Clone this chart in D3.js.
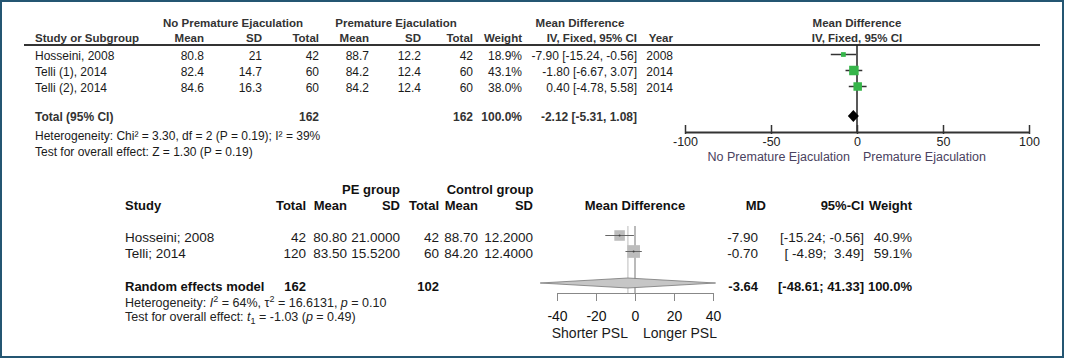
<!DOCTYPE html>
<html>
<head>
<meta charset="utf-8">
<script src="https://cdn.jsdelivr.net/npm/d3@7"></script>
<style>
body { margin: 0; background: #fff; }
svg text { font-family: Arial, "Liberation Sans", sans-serif; white-space: pre; }
</style>
</head>
<body>
<svg id="forest" width="1065" height="359"></svg>
<script>
// ---- top panel (RevMan, fixed effect) ----
var studiesA = ["Hosseini, 2008", "Telli (1), 2014", "Telli (2), 2014"];
var noPeMean = [80.8, 82.4, 84.6];
var noPeSD = [21, 14.7, 16.3];
var noPeN = [42, 60, 60];
var peMeanA = [88.7, 84.2, 84.2];
var peSDA = [12.2, 12.4, 12.4];
var peNA = [42, 60, 60];
var weightA = [18.9, 43.1, 38.0];
var mdA = [-7.90, -1.80, 0.40];
var loA = [-15.24, -6.67, -4.78];
var hiA = [-0.56, 3.07, 5.58];
var yearA = [2008, 2014, 2014];
var totalA = {n1: 162, n2: 162, w: 100.0, md: -2.12, lo: -5.31, hi: 1.08};
var ticksA = [-100, -50, 0, 50, 100];

// ---- bottom panel (meta, random effects) ----
var studiesB = ["Hosseini; 2008", "Telli; 2014"];
var peTotB = [42, 120];
var peMeanB = [80.80, 83.50];
var peSDB = [21.0000, 15.5200];
var ctlTotB = [42, 60];
var ctlMeanB = [88.70, 84.20];
var ctlSDB = [12.2000, 12.4000];
var mdB = [-7.90, -0.70];
var loB = [-15.24, -4.89];
var hiB = [-0.56, 3.49];
var weightB = [40.9, 59.1];
var totalB = {n1: 162, n2: 102, md: -3.64, lo: -48.61, hi: 41.33, w: 100.0};
var ticksB = [-40, -20, 0, 20, 40];

function txt(g, x, y, s, anchor, opts) {
	opts = opts || {};
	return g.append("text")
		.attr("x", x).attr("y", y)
		.attr("text-anchor", anchor || "start")
		.style("font-size", (opts.size || 12) + "px")
		.style("font-weight", opts.bold ? "bold" : "normal")
		.attr("fill", opts.color || "#1a1a1a")
		.text(s);
}

function draw() {
	var svg = d3.select("#forest");

	svg.append("rect")
		.attr("x", 1).attr("y", 1)
		.attr("width", 1062).attr("height", 356)
		.attr("fill", "#fff")
		.attr("stroke", "#245672")
		.attr("stroke-width", 2);

	// ================= top =================
	var gTop = svg.append("g").attr("class", "top");
	var hd = {size: 11.5, bold: true, color: "#333"};
	var fs = 12;

	txt(gTop, 233, 27, "No Premature Ejaculation", "middle", hd);
	txt(gTop, 396, 27, "Premature Ejaculation", "middle", hd);
	txt(gTop, 580, 27, "Mean Difference", "middle", hd);
	txt(gTop, 857, 27, "Mean Difference", "middle", hd);

	txt(gTop, 35, 42, "Study or Subgroup", "start", hd);
	txt(gTop, 204, 42, "Mean", "end", hd);
	txt(gTop, 262, 42, "SD", "end", hd);
	txt(gTop, 319, 42, "Total", "end", hd);
	txt(gTop, 369, 42, "Mean", "end", hd);
	txt(gTop, 421, 42, "SD", "end", hd);
	txt(gTop, 473, 42, "Total", "end", hd);
	txt(gTop, 522, 42, "Weight", "end", hd);
	txt(gTop, 637, 42, "IV, Fixed, 95% CI", "end", hd);
	txt(gTop, 673, 42, "Year", "end", hd);
	txt(gTop, 857, 42, "IV, Fixed, 95% CI", "middle", hd);

	gTop.append("line")
		.attr("x1", 24).attr("x2", 1040)
		.attr("y1", 45).attr("y2", 45)
		.attr("stroke", "#333").attr("stroke-width", 2);

	var rowA = d3.scalePoint().domain(studiesA).range([55.5, 87.5]);
	var xA = d3.scaleLinear().domain([-100, 100]).range([685, 1029]);
	var sizeA = d3.scaleLinear().domain([0, 43.1]).range([1, 9.5]);

	studiesA.forEach(function(s, i) {
		var y = rowA(s) + 4.5;
		var o = {size: fs};
		txt(gTop, 35, y, s, "start", o);
		txt(gTop, 204, y, noPeMean[i].toFixed(1), "end", o);
		txt(gTop, 262, y, String(noPeSD[i]), "end", o);
		txt(gTop, 319, y, String(noPeN[i]), "end", o);
		txt(gTop, 369, y, peMeanA[i].toFixed(1), "end", o);
		txt(gTop, 421, y, peSDA[i].toFixed(1), "end", o);
		txt(gTop, 473, y, String(peNA[i]), "end", o);
		txt(gTop, 522, y, weightA[i].toFixed(1) + "%", "end", o);
		txt(gTop, 637, y, mdA[i].toFixed(2) + " [" + loA[i].toFixed(2) + ", " + hiA[i].toFixed(2) + "]", "end", o);
		txt(gTop, 673, y, String(yearA[i]), "end", o);
	});

	var totY = 121;
	var tb = {size: fs, bold: true, color: "#333"};
	txt(gTop, 35, totY, "Total (95% CI)", "start", tb);
	txt(gTop, 319, totY, String(totalA.n1), "end", tb);
	txt(gTop, 473, totY, String(totalA.n2), "end", tb);
	txt(gTop, 522, totY, totalA.w.toFixed(1) + "%", "end", tb);
	txt(gTop, 637, totY, totalA.md.toFixed(2) + " [" + totalA.lo.toFixed(2) + ", " + totalA.hi.toFixed(2) + "]", "end", tb);
	txt(gTop, 35, 140, "Heterogeneity: Chi\u00b2 = 3.30, df = 2 (P = 0.19); I\u00b2 = 39%", "start", {size: fs});
	txt(gTop, 35, 156, "Test for overall effect: Z = 1.30 (P = 0.19)", "start", {size: fs});

	// zero line
	var axYA = 132;
	gTop.append("line")
		.attr("x1", xA(0)).attr("x2", xA(0))
		.attr("y1", 45).attr("y2", axYA)
		.attr("stroke", "#222").attr("stroke-width", 1.5);

	// CIs + squares
	studiesA.forEach(function(s, i) {
		var y = rowA(s) - 1;
		gTop.append("line")
			.attr("x1", xA(loA[i])).attr("x2", xA(hiA[i]))
			.attr("y1", y).attr("y2", y)
			.attr("stroke", "#333").attr("stroke-width", 1.5);
		var w = sizeA(weightA[i]);
		gTop.append("rect")
			.attr("x", xA(mdA[i]) - w / 2).attr("y", y - w / 2)
			.attr("width", w).attr("height", w)
			.attr("fill", "#36b54a");
	});

	// pooled diamond
	var dy = 116;
	gTop.append("path")
		.attr("d", "M" + xA(totalA.lo) + "," + dy + "L" + xA(totalA.md) + "," + (dy - 6) +
			"L" + xA(totalA.hi) + "," + dy + "L" + xA(totalA.md) + "," + (dy + 6) + "Z")
		.attr("fill", "#000");

	var axisA = gTop.append("g")
		.attr("transform", "translate(0," + axYA + ")")
		.call(d3.axisBottom(xA).tickValues(ticksA).tickFormat(d => String(d))
			.tickSize(-7).tickSizeOuter(0).tickPadding(5));
	axisA.select(".domain").attr("stroke", "#333").attr("stroke-width", 2);
	axisA.selectAll(".tick line").attr("stroke", "#333").attr("stroke-width", 1.5).attr("y2", -7).attr("y1", 2);
	axisA.selectAll(".tick text")
		.style("font-size", "12.5px").attr("fill", "#222")
		.attr("font-family", null);

	txt(gTop, 850, 161, "No Premature Ejaculation", "end", {size: 12.5, color: "#4a4260"});
	txt(gTop, 863, 161, "Premature Ejaculation", "start", {size: 12.5, color: "#4a4260"});

	// ================= bottom =================
	var gBot = svg.append("g").attr("class", "bottom");
	var bh = {size: 13, bold: true, color: "#111"};
	var fb = 13.5;

	txt(gBot, 371, 194, "PE group", "middle", bh);
	txt(gBot, 490, 194, "Control group", "middle", bh);
	txt(gBot, 125, 210, "Study", "start", bh);
	txt(gBot, 306, 210, "Total", "end", bh);
	txt(gBot, 347, 210, "Mean", "end", bh);
	txt(gBot, 400, 210, "SD", "end", bh);
	txt(gBot, 439, 210, "Total", "end", bh);
	txt(gBot, 478, 210, "Mean", "end", bh);
	txt(gBot, 533, 210, "SD", "end", bh);
	txt(gBot, 635, 210, "Mean Difference", "middle", bh);
	txt(gBot, 766, 210, "MD", "end", bh);
	txt(gBot, 864, 210, "95%-CI", "end", bh);
	txt(gBot, 912, 210, "Weight", "end", bh);

	var rowB = d3.scalePoint().domain(studiesB).range([236.5, 252.5]);
	var xB = d3.scaleLinear().domain([-40, 40]).range([557, 713]);
	var sizeB = d3.scaleSqrt().domain([0, 100]).range([0, 16.5]);

	function ciB(lo, hi) {
		return "[" + lo.toFixed(2).padStart(6, " ") + "; " + hi.toFixed(2).padStart(5, " ") + "]";
	}

	studiesB.forEach(function(s, i) {
		var y = rowB(s) + 5;
		var o = {size: fb};
		txt(gBot, 125, y, s, "start", o);
		txt(gBot, 306, y, String(peTotB[i]), "end", o);
		txt(gBot, 347, y, peMeanB[i].toFixed(2), "end", o);
		txt(gBot, 400, y, peSDB[i].toFixed(4), "end", o);
		txt(gBot, 439, y, String(ctlTotB[i]), "end", o);
		txt(gBot, 478, y, ctlMeanB[i].toFixed(2), "end", o);
		txt(gBot, 533, y, ctlSDB[i].toFixed(4), "end", o);
		txt(gBot, 758, y, mdB[i].toFixed(2), "end", o);
		txt(gBot, 864, y, ciB(loB[i], hiB[i]), "end", o);
		txt(gBot, 912, y, weightB[i].toFixed(1) + "%", "end", o);
	});

	var reY = 291;
	txt(gBot, 125, reY, "Random effects model", "start", bh);
	txt(gBot, 306, reY, String(totalB.n1), "end", bh);
	txt(gBot, 439, reY, String(totalB.n2), "end", bh);
	txt(gBot, 758, reY, totalB.md.toFixed(2), "end", bh);
	txt(gBot, 864, reY, ciB(totalB.lo, totalB.hi), "end", bh);
	txt(gBot, 912, reY, totalB.w.toFixed(1) + "%", "end", bh);

	var het = txt(gBot, 125, 307, "Heterogeneity: ", "start", {size: 12.5, color: "#222"});
	het.append("tspan").style("font-style", "italic").text("I");
	het.append("tspan").attr("dy", -5).style("font-size", "9px").text("2");
	het.append("tspan").attr("dy", 5).text(" = 64%, \u03c4");
	het.append("tspan").attr("dy", -5).style("font-size", "9px").text("2");
	het.append("tspan").attr("dy", 5).text(" = 16.6131, ");
	het.append("tspan").style("font-style", "italic").text("p");
	het.append("tspan").text(" = 0.10");

	var tst = txt(gBot, 125, 321, "Test for overall effect: ", "start", {size: 12.5, color: "#222"});
	tst.append("tspan").style("font-style", "italic").text("t");
	tst.append("tspan").attr("dy", 3).style("font-size", "9px").text("1");
	tst.append("tspan").attr("dy", -3).text(" = -1.03 (");
	tst.append("tspan").style("font-style", "italic").text("p");
	tst.append("tspan").text(" = 0.49)");

	var axYB = 293;
	// pooled estimate line and zero line
	gBot.append("line")
		.attr("x1", xB(totalB.md)).attr("x2", xB(totalB.md))
		.attr("y1", 226).attr("y2", axYB)
		.attr("stroke", "#c8c8c8").attr("stroke-width", 1.2);
	gBot.append("line")
		.attr("x1", xB(0)).attr("x2", xB(0))
		.attr("y1", 226).attr("y2", axYB)
		.attr("stroke", "#8c8c8c").attr("stroke-width", 1.2);

	studiesB.forEach(function(s, i) {
		var y = rowB(s) - 1;
		var w = sizeB(weightB[i]);
		gBot.append("rect")
			.attr("x", xB(mdB[i]) - w / 2).attr("y", y - w / 2)
			.attr("width", w).attr("height", w)
			.attr("fill", "#bdbdbd");
		gBot.append("line")
			.attr("x1", xB(loB[i])).attr("x2", xB(hiB[i]))
			.attr("y1", y).attr("y2", y)
			.attr("stroke", "#666").attr("stroke-width", 1);
		gBot.append("circle")
			.attr("cx", xB(mdB[i])).attr("cy", y).attr("r", 1)
			.attr("fill", "#444");
	});

	var dyB = 283;
	gBot.append("path")
		.attr("d", "M" + xB(totalB.lo) + "," + dyB + "L" + xB(totalB.md) + "," + (dyB - 5) +
			"L" + xB(totalB.hi) + "," + dyB + "L" + xB(totalB.md) + "," + (dyB + 5) + "Z")
		.attr("fill", "#c6c6c6")
		.attr("stroke", "#777").attr("stroke-width", 0.8);

	var axisB = gBot.append("g")
		.attr("transform", "translate(0," + axYB + ")")
		.call(d3.axisBottom(xB).tickValues(ticksB).tickFormat(d => String(d))
			.tickSize(8).tickSizeOuter(0).tickPadding(10));
	axisB.select(".domain").attr("stroke", "#888").attr("stroke-width", 1);
	axisB.selectAll(".tick line").attr("stroke", "#888");
	axisB.selectAll(".tick text")
		.style("font-size", "14px").attr("fill", "#111")
		.attr("font-family", null);

	txt(gBot, 628, 338, "Shorter PSL", "end", {size: 14});
	txt(gBot, 643, 338, "Longer PSL", "start", {size: 14});
}

draw();
</script>
</body>
</html>
